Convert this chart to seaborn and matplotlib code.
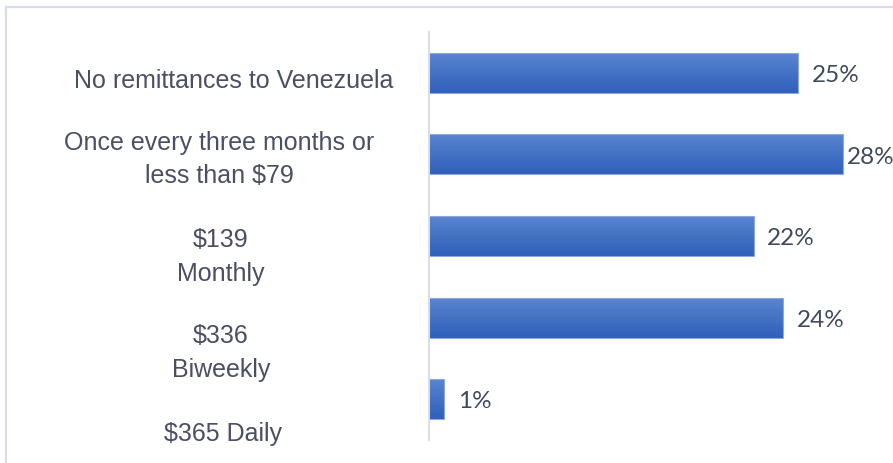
import numpy as np
import pandas as pd
import matplotlib
matplotlib.use("Agg")
import matplotlib.pyplot as plt
import matplotlib.transforms as mtransforms
from matplotlib.colors import LinearSegmentedColormap
from matplotlib.patches import Rectangle
import seaborn as sns

# Remittance frequency / amount categories and share of respondents (%)
categories = [
    "No remittances to Venezuela",
    "Once every three months or\nless than $79",
    "$139\nMonthly",
    "$336\nBiweekly",
    "$365 Daily",
]
shares = [25, 28, 22, 24, 1]
value_labels = ["25%", "28%", "22%", "24%", "1%"]

df = pd.DataFrame({"category": categories, "share": shares})

sns.set_theme(style="white")
plt.rcParams["font.family"] = ["Liberation Sans", "DejaVu Sans"]

W, H, DPI = 893, 464, 100
fig = plt.figure(figsize=(W / DPI, H / DPI), dpi=DPI)
fig.patch.set_facecolor("white")

# outer chart-area border (runs off the right and bottom edges)
fig.patches.append(Rectangle((5.5 / W, -0.05), 1.1, (H - 8) / H + 0.05,
                             transform=fig.transFigure, fill=False,
                             edgecolor="#d9dde6", linewidth=1.6))

ax_left, ax_top, ax_bottom = 429, 33, 441
ax = fig.add_axes([ax_left / W, (H - ax_bottom) / H,
                   (W - ax_left) / W, (ax_bottom - ax_top) / H])
ax.set_facecolor("none")

sns.barplot(data=df, x="share", y="category", orient="h", width=0.49,
            color="#4472c4", ax=ax, saturation=1)

px_per_unit = 14.77
xmax = (W - ax_left) / px_per_unit

# vertical gradient fill on each bar
grad = LinearSegmentedColormap.from_list("barfill", ["#5b84d2", "#4472c4", "#2f5fbb"])
gimg = np.linspace(0, 1, 256).reshape(-1, 1)
for p in ax.patches:
    x0, y0 = p.get_x(), p.get_y()
    w, h = p.get_width(), p.get_height()
    p.set_facecolor("none")
    p.set_edgecolor("#8eaadc")
    p.set_linewidth(0.8)
    im = ax.imshow(gimg, cmap=grad, aspect="auto", origin="upper",
                   extent=(x0, x0 + w, y0 + h, y0), zorder=p.get_zorder() - 0.1)
    im.set_clip_path(p)
ax.set_xlim(0, xmax)
ax.set_ylim(len(categories) - 0.5, -0.5)

# percentage labels at the end of each bar
gaps = [9.5, 3, 9.5, 9.5, 10.5]
for i, (v, lab) in enumerate(zip(shares, value_labels)):
    ax.annotate(lab, xy=(v, i), xytext=(gaps[i], -1.2), textcoords="offset points",
                ha="left", va="center", fontsize=17.5, color="#404a5c",
                family=["Lato", "DejaVu Sans"], annotation_clip=False)

# category labels, centred to the left of the axis
ax.set_yticks([])
ax.set_xticks([])
ax.set_ylabel("")
ax.set_xlabel("")
lab_x = [233.5, 219.5, 221, 221, 223]
lab_dy = [0.178, 0.342, 0.539, 0.712, 0.5]   # last-line baseline offsets
trans = mtransforms.blended_transform_factory(fig.transFigure, ax.transData)
for i, cat in enumerate(categories):
    ax.text(lab_x[i] / W, i + lab_dy[i], cat, transform=trans,
            ha="center", va="baseline", fontsize=18, color="#4a4f63",
            multialignment="center", linespacing=1.5)

for side in ("top", "right", "bottom"):
    ax.spines[side].set_visible(False)
ax.spines["left"].set_color("#d9dde6")
ax.spines["left"].set_linewidth(1.4)

fig.savefig("out.png", dpi=DPI)
